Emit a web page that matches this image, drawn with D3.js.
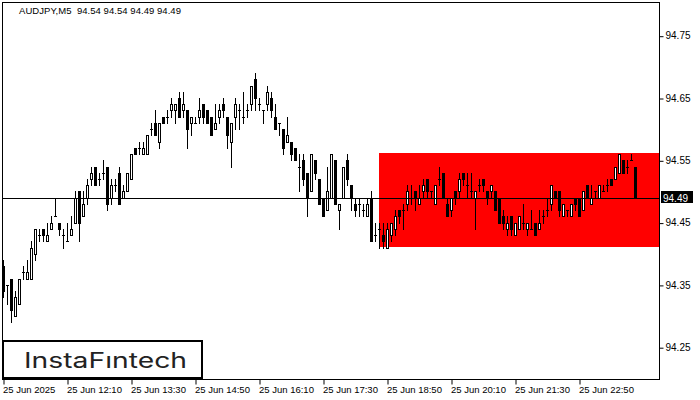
<!DOCTYPE html>
<html><head><meta charset="utf-8">
<script src="https://cdn.jsdelivr.net/npm/d3@7/dist/d3.min.js"></script>
<style>
html,body{margin:0;padding:0;background:#fff;}
svg{display:block;font-family:"Liberation Sans",Arial,sans-serif;}
</style></head>
<body>
<svg id="c" width="700" height="400"></svg>
<script>
const symbolTitle = "AUDJPY,M5  94.54 94.54 94.49 94.49";
const opens = [
94.38,94.35,94.36,94.30,94.32,94.37,94.36,94.36,94.40,94.43,
94.44,94.42,94.44,94.46,94.45,94.43,94.42,94.43,94.45,94.50,
94.46,94.49,94.52,94.54,94.52,94.53,94.54,94.49,94.51,94.53,
94.49,94.50,94.52,94.57,94.57,94.56,94.56,94.60,94.61,94.58,
94.62,94.62,94.63,94.63,94.65,94.63,94.63,94.61,94.61,94.62,
94.64,94.63,94.62,94.60,94.62,94.64,94.62,94.58,94.62,94.63,
94.62,94.63,94.64,94.68,94.64,94.63,94.64,94.65,94.62,94.61,
94.60,94.58,94.58,94.57,94.54,94.55,94.53,94.50,94.55,94.52,
94.49,94.47,94.49,94.55,94.47,94.49,94.55,94.51,94.48,94.48,
94.47,94.46,94.49,94.43,94.44,94.43,94.41,94.43,94.44,94.47,
94.47,94.48,94.49,94.50,94.48,94.50,94.52,94.50,94.48,94.52,
94.53,94.48,94.47,94.50,94.50,94.53,94.51,94.50,94.49,94.51,
94.52,94.50,94.50,94.50,94.49,94.46,94.44,94.46,94.43,94.44,
94.45,94.44,94.44,94.45,94.44,94.46,94.47,94.48,94.50,94.50,
94.46,94.47,94.46,94.49,94.49,94.47,94.51,94.48,94.50,94.49,
94.50,94.51,94.52,94.52,94.53,94.55,94.54,94.55,94.54];
const highs = [
94.39,94.35,94.36,94.34,94.36,94.38,94.39,94.42,94.44,94.44,
94.44,94.45,94.46,94.49,94.45,94.44,94.45,94.46,94.50,94.50,
94.50,94.52,94.54,94.54,94.53,94.55,94.54,94.52,94.52,94.54,
94.51,94.53,94.56,94.57,94.58,94.58,94.59,94.61,94.63,94.61,
94.62,94.63,94.65,94.64,94.66,94.66,94.63,94.62,94.62,94.65,
94.64,94.63,94.62,94.64,94.64,94.65,94.62,94.61,94.65,94.64,
94.66,94.64,94.67,94.69,94.65,94.63,94.67,94.66,94.64,94.61,
94.60,94.62,94.58,94.57,94.56,94.56,94.53,94.56,94.55,94.52,
94.49,94.54,94.56,94.55,94.48,94.54,94.56,94.51,94.49,94.49,
94.48,94.49,94.50,94.45,94.45,94.45,94.45,94.45,94.47,94.47,
94.48,94.51,94.51,94.50,94.51,94.52,94.52,94.50,94.51,94.54,
94.53,94.49,94.49,94.50,94.53,94.53,94.53,94.53,94.50,94.52,
94.52,94.50,94.51,94.50,94.49,94.47,94.46,94.46,94.45,94.46,
94.48,94.45,94.47,94.45,94.47,94.47,94.49,94.51,94.50,94.50,
94.48,94.47,94.48,94.49,94.49,94.50,94.51,94.51,94.50,94.51,
94.51,94.52,94.52,94.54,94.56,94.55,94.55,94.56,94.54];
const lows = [
94.33,94.32,94.29,94.30,94.32,94.36,94.36,94.36,94.39,94.42,
94.42,94.42,94.44,94.46,94.43,94.41,94.42,94.43,94.45,94.42,
94.46,94.48,94.51,94.51,94.51,94.52,94.47,94.48,94.50,94.48,
94.49,94.50,94.52,94.56,94.56,94.56,94.56,94.59,94.59,94.57,
94.61,94.61,94.62,94.61,94.62,94.62,94.57,94.59,94.61,94.61,
94.61,94.61,94.59,94.60,94.61,94.62,94.57,94.54,94.60,94.60,
94.61,94.62,94.63,94.63,94.63,94.61,94.63,94.62,94.60,94.59,
94.56,94.58,94.55,94.55,94.50,94.51,94.46,94.50,94.52,94.48,
94.46,94.47,94.49,94.48,94.44,94.49,94.51,94.47,94.46,94.46,
94.46,94.46,94.42,94.42,94.41,94.41,94.41,94.42,94.43,94.45,
94.44,94.47,94.48,94.47,94.48,94.49,94.49,94.49,94.48,94.51,
94.49,94.46,94.46,94.48,94.49,94.51,94.49,94.49,94.44,94.50,
94.50,94.48,94.49,94.47,94.45,94.44,94.43,94.43,94.43,94.44,
94.44,94.43,94.44,94.43,94.44,94.45,94.46,94.47,94.49,94.46,
94.46,94.46,94.46,94.47,94.46,94.47,94.49,94.48,94.49,94.49,
94.50,94.50,94.51,94.52,94.53,94.53,94.53,94.55,94.49];
const closes = [
94.34,94.35,94.31,94.33,94.36,94.37,94.37,94.41,94.44,94.43,
94.43,94.43,94.45,94.46,94.44,94.43,94.42,94.44,94.49,94.45,
94.48,94.51,94.53,94.51,94.52,94.53,94.48,94.51,94.51,94.48,
94.50,94.53,94.56,94.56,94.57,94.57,94.59,94.60,94.59,94.61,
94.61,94.62,94.64,94.64,94.62,94.64,94.60,94.62,94.61,94.63,
94.62,94.61,94.59,94.61,94.63,94.63,94.59,94.61,94.64,94.63,
94.62,94.63,94.67,94.65,94.64,94.63,94.66,94.63,94.60,94.61,
94.57,94.59,94.56,94.55,94.54,94.52,94.49,94.56,94.53,94.48,
94.46,94.50,94.56,94.48,94.48,94.54,94.52,94.49,94.47,94.48,
94.47,94.48,94.42,94.43,94.44,94.42,94.44,94.45,94.46,94.46,
94.47,94.50,94.49,94.49,94.49,94.51,94.50,94.50,94.51,94.52,
94.49,94.46,94.49,94.49,94.52,94.52,94.51,94.50,94.50,94.51,
94.51,94.49,94.51,94.47,94.45,94.45,94.45,94.44,94.45,94.46,
94.45,94.45,94.44,94.43,94.45,94.46,94.47,94.51,94.49,94.47,
94.48,94.47,94.48,94.48,94.46,94.50,94.49,94.49,94.50,94.51,
94.50,94.51,94.51,94.54,94.56,94.53,94.54,94.55,94.49];
const priceTicks = [94.25, 94.35, 94.45, 94.55, 94.65, 94.75];
const timeTickIndex = [0, 16, 32, 48, 64, 80, 96, 112, 128, 144];
const timeTickLabels = ["25 Jun 2025","25 Jun 12:10","25 Jun 13:30","25 Jun 14:50","25 Jun 16:10",
                        "25 Jun 17:30","25 Jun 18:50","25 Jun 20:10","25 Jun 21:30","25 Jun 22:50"];
const lastPrice = 94.49;
const zoneTop = 94.562, zoneBottom = 94.411, zoneStartIndex = 94;
const logoText = "InstaFıntech";

const svg = d3.select("#c");
const L = 2, R = 660, T = 2, B = 380;
const n = opens.length;
const x = d3.scaleLinear().domain([0, n - 1]).range([3.5, 3.5 + 4 * (n - 1)]);
const y = d3.scaleLinear().domain([94.25, 94.75]).range([347.2, 35.7]);

svg.append("rect").attr("x",0).attr("y",0).attr("width",700).attr("height",400).attr("fill","#fff");

// red zone
const zx = Math.round(x(zoneStartIndex) - 0.5);
svg.append("rect").attr("x", zx).attr("y", Math.round(y(zoneTop)))
  .attr("width", R - zx).attr("height", Math.round(y(zoneBottom)) - Math.round(y(zoneTop)))
  .attr("fill", "#ff0000");

// candles
const data = opens.map((o,i)=>({i,o,h:highs[i],l:lows[i],c:closes[i]}));
const g = svg.append("g");
data.forEach(d=>{
  const cx = Math.floor(x(d.i));
  const yh = Math.round(y(d.h)), yl = Math.round(y(d.l));
  g.append("rect").attr("x",cx).attr("y",yh).attr("width",1).attr("height",yl-yh+1).attr("fill","#000");
  const top = Math.round(y(Math.max(d.o,d.c))), bot = Math.round(y(Math.min(d.o,d.c)));
  if (d.c > d.o) {
    g.append("rect").attr("x",cx-0.5).attr("y",top+0.5).attr("width",2).attr("height",Math.max(bot-top,1))
      .attr("fill","#fff").attr("stroke","#000").attr("stroke-width",1);
  } else if (d.c < d.o) {
    g.append("rect").attr("x",cx-1).attr("y",top).attr("width",3).attr("height",bot-top+1).attr("fill","#000");
  } else {
    g.append("rect").attr("x",cx-1).attr("y",top).attr("width",3).attr("height",1).attr("fill","#000");
  }
});

// last price line
const py = Math.round(y(lastPrice)) + 0.5;
svg.append("line").attr("x1",L).attr("x2",R).attr("y1",py).attr("y2",py).attr("stroke","#000").attr("stroke-width",1);

// frame
svg.append("rect").attr("x",L+0.5).attr("y",T+0.5).attr("width",R-L-1).attr("height",B-T-1)
  .attr("fill","none").attr("stroke","#000").attr("stroke-width",1);

// right axis
const ya = svg.append("g").attr("transform",`translate(${R-0.5},0)`)
  .call(d3.axisRight(y).tickValues(priceTicks).tickSize(4).tickPadding(2).tickFormat(d3.format(".2f")));
ya.select(".domain").remove();
ya.selectAll("line").attr("stroke","#000").attr("transform","translate(0,0.5)");
ya.selectAll("text").attr("font-size","10px").attr("fill","#000").attr("font-family","Liberation Sans, Arial, sans-serif");

// price label
svg.append("rect").attr("x",661).attr("y",py-7.5).attr("width",32).attr("height",12).attr("fill","#000");
svg.append("text").attr("x",663).attr("y",py+3.5).attr("font-size","10px").attr("fill","#fff").text(d3.format(".2f")(lastPrice));

// bottom axis
const xa = svg.append("g").attr("transform",`translate(0,${B-0.5})`)
  .call(d3.axisBottom(x).tickValues(timeTickIndex).tickSize(5).tickPadding(2)
    .tickFormat((d,k)=>timeTickLabels[k]));
xa.select(".domain").remove();
xa.selectAll("line").attr("stroke","#000");
xa.selectAll("text").attr("text-anchor","start").attr("dx","-1").attr("font-size","9.5px").attr("fill","#000")
  .attr("font-family","Liberation Sans, Arial, sans-serif");

// title
svg.append("text").attr("x",19).attr("y",14).attr("font-size","9.5px").attr("fill","#000")
  .attr("xml:space","preserve").style("white-space","pre").attr("textLength",162).attr("lengthAdjust","spacing").text(symbolTitle);

// logo
svg.append("rect").attr("x",3).attr("y",341).attr("width",199).attr("height",37)
  .attr("fill","#fff").attr("stroke","#000").attr("stroke-width",2);
svg.append("text").attr("x",24).attr("y",367.5).attr("font-size","21px").attr("font-weight","400")
  .attr("font-family","Inter, 'Noto Sans', sans-serif").attr("fill","#222")
  .attr("textLength",163).attr("lengthAdjust","spacingAndGlyphs").text(logoText);
</script>
</body></html>
